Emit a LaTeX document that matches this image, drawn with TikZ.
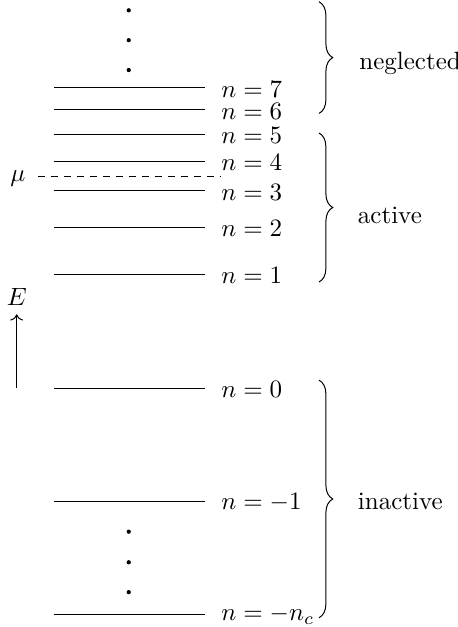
\documentclass[tikz,border=0pt]{standalone}
\usepackage{amsmath}
\usetikzlibrary{
  arrows.meta,
  decorations.pathreplacing,
  positioning
}

\begin{document}
\begin{tikzpicture}[
    lbl/.style={anchor=west, inner sep=3pt},
    grp/.style={decorate, decoration={brace, amplitude=5.5pt}},
    dotmark/.style={fill=black}
  ]
  \useasboundingbox (0,0) rectangle (6.425,8.815);
  \def\xl{0.76}
  \def\xr{2.88}
  % energy levels
  \foreach \y/\k [count=\i] in {
    7.58/7, 7.27/6, 6.93/5, 6.55/4, 6.13/3,
    5.62/2, 4.96/1, 3.36/0, 1.77/-1, 0.18/-n_c}{
    \coordinate (lev\i a) at (\xl,\y);
    \coordinate (lev\i b) at (\xr,\y);
    \draw (lev\i a) -- (lev\i b);
    \node[lbl, right=0.12cm of lev\i b, yshift=-0.5pt] (n\i) {$n=\k$};
  }
  \foreach \y in {8.67,8.25,7.83,1.34,0.91,0.49}{
    \fill[dotmark] (1.81,\y) circle (0.85pt);
  }
  % chemical potential
  \node (mu) at (0.25,6.31) {$\mu$};
  \coordinate (muL) at (0.53,6.34);
  \coordinate (muR) at (3.09,6.34);
  \draw[dash pattern=on 3pt off 2.2pt] (muL) -- (muR);
  % energy axis
  \node (E) at (0.235,4.64) {$E$};
  \coordinate (eB) at (0.235,3.36);
  \draw[->] (eB) -- (E);
  % groups
  \coordinate (ngT) at (4.485,8.79);
  \coordinate (ngB) at (4.485,7.22);
  \coordinate (acT) at (4.485,6.945);
  \coordinate (acB) at (4.485,4.85);
  \coordinate (inT) at (4.485,3.47);
  \coordinate (inB) at (4.485,0.13);
  \draw[grp] (ngT) -- (ngB);
  \draw[grp] (acT) -- (acB);
  \draw[grp] (inT) -- (inB);
  \node[lbl] (ng) at (4.94,7.93) {neglected};
  \node[lbl] (ac) at (4.92,5.78) {active};
  \node[lbl] (in) at (4.92,1.76) {inactive};
\end{tikzpicture}
\end{document}
